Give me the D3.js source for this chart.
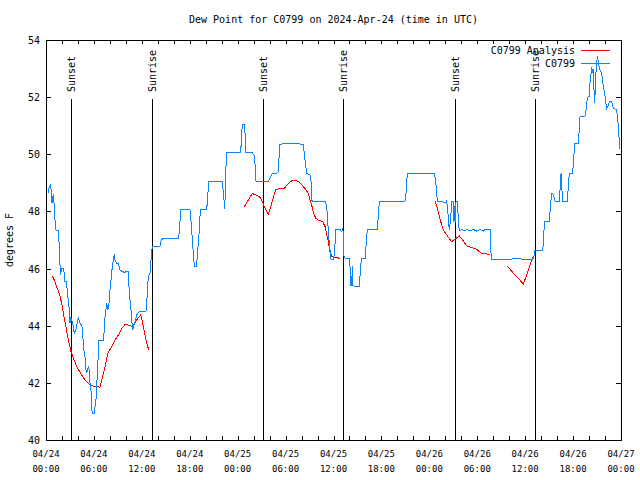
<!DOCTYPE html>
<html>
<head>
<meta charset="utf-8">
<script src="https://cdn.jsdelivr.net/npm/d3@7"></script>
<style>
  html, body { margin: 0; padding: 0; background: #fff; }
  svg { display: block; }
  text { font-family: "DejaVu Sans Mono", "Liberation Mono", monospace; fill: #000; }
</style>
</head>
<body>
<svg id="chart" width="640" height="480"></svg>
<script>
// ---------------- data ----------------
const chartTitle = "Dew Point for C0799 on 2024-Apr-24 (time in UTC)";
const yAxisLabel = "degrees F";
const seriesNames = ["C0799 Analysis", "C0799"];
const startTime = "2024-04-24T00:00:00Z";
const endTime = "2024-04-27T00:00:00Z";
const yTicks = [40, 42, 44, 46, 48, 50, 52, 54];

// observations: hours after 04/24 00:00 UTC
const obsHours = [0.25,0.34,0.44,0.59,0.66,0.75,0.91,1.00,1.13,1.25,1.50,1.63,1.75,1.84,1.92,2.17,2.25,2.38,2.59,2.67,2.79,2.92,3.01,3.09,3.22,3.34,3.54,3.72,3.92,4.04,4.26,4.47,4.60,4.67,4.88,5.01,5.13,5.30,5.42,5.51,5.63,5.72,5.85,6.05,6.14,6.26,6.35,6.42,6.55,6.64,7.18,7.30,7.39,7.60,7.73,7.89,8.01,8.10,8.26,8.43,8.55,8.64,8.77,8.85,9.05,9.27,9.60,9.89,10.11,10.31,10.43,10.61,10.77,10.86,11.02,11.27,11.43,11.61,11.77,12.52,12.61,12.73,12.81,13.02,13.15,13.24,13.31,14.28,14.36,14.61,16.57,16.69,16.82,16.87,18.03,18.12,18.24,18.37,18.45,18.57,18.87,18.95,19.07,19.20,19.28,19.37,20.12,20.20,20.32,20.41,22.08,22.20,22.29,22.33,22.45,22.54,22.63,24.38,24.51,24.58,24.83,24.92,25.01,25.76,26.05,26.17,26.30,26.80,27.21,27.84,28.14,28.26,28.89,29.09,29.21,29.30,29.93,30.97,32.22,32.43,32.65,33.06,33.18,33.27,33.47,34.94,35.15,35.27,35.44,35.56,35.69,35.98,36.06,36.19,36.28,36.81,37.03,37.15,37.23,37.32,37.44,37.98,38.07,38.15,38.28,38.36,38.44,38.69,39.23,39.32,39.41,39.53,39.95,40.07,40.16,40.23,41.49,41.61,41.74,44.95,45.08,45.17,45.24,48.59,48.71,48.84,48.92,49.00,49.55,50.09,50.17,50.30,50.38,50.50,50.68,50.80,51.00,51.09,51.18,51.25,51.34,51.50,51.63,51.72,51.84,52.05,52.47,52.68,53.09,53.51,53.93,54.35,54.76,54.97,55.60,55.69,55.76,57.69,58.10,58.48,59.77,60.95,61.11,61.23,62.20,62.27,62.36,62.48,63.02,63.20,63.32,63.52,63.74,64.28,64.36,64.49,64.58,64.70,65.28,65.40,65.53,65.95,66.03,66.12,66.24,66.66,66.74,66.87,67.49,67.62,67.71,67.91,68.03,68.12,68.25,68.33,68.46,68.53,68.62,68.71,68.78,68.87,68.96,69.03,69.12,69.21,69.37,69.58,69.71,69.87,70.00,70.12,70.21,70.41,70.54,70.84,71.05,71.46,71.59,71.72,71.80,71.88];
const obsDewpoint = [48.66,48.8,48.85,48.96,48.66,48.3,48.6,48.3,47.7,47.35,47.35,46.94,46.13,45.77,46.0,46.0,45.9,45.54,45.54,45.13,44.9,44.55,44.09,44.3,44.2,44.09,43.74,43.85,44.09,44.3,44.09,44.02,43.8,43.27,42.91,42.45,42.36,42.57,42.45,41.98,41.75,41.05,40.93,40.93,41.17,41.4,41.98,42.2,43.03,43.5,43.5,43.85,44.31,44.78,44.55,44.78,45.25,45.48,45.95,46.3,46.51,46.3,46.24,46.18,46.18,45.95,45.89,45.86,45.91,45.91,45.13,44.67,44.08,43.87,44.02,44.26,44.43,44.47,44.49,44.49,44.78,45.36,45.72,45.83,46.3,46.59,46.77,46.79,46.94,47.06,47.06,47.29,47.82,48.07,48.07,47.82,47.35,46.83,46.53,46.09,46.09,46.53,46.83,47.35,47.82,48.07,48.07,48.34,48.8,49.06,49.06,48.69,48.4,48.07,48.52,49.57,50.07,50.07,50.73,51.05,51.05,50.73,50.07,50.07,49.97,49.68,49.06,49.04,49.06,49.04,49.22,49.31,49.34,49.4,50.03,50.35,50.38,50.38,50.35,49.8,49.34,49.27,49.1,48.4,48.34,48.36,48.17,47.64,47.0,46.65,46.32,46.32,46.42,46.88,47.37,47.37,47.29,47.41,47.23,46.42,46.36,46.36,46.06,45.4,45.4,46.1,45.4,45.37,45.37,45.72,46.13,46.36,46.36,46.77,47.12,47.37,47.37,47.82,48.36,48.36,48.63,48.98,49.33,49.33,49.22,48.93,48.63,48.36,48.34,48.31,48.36,48.11,47.7,47.35,47.76,48.34,48.34,47.64,48.2,47.64,48.34,48.34,47.76,47.41,47.31,47.37,47.31,47.37,47.31,47.37,47.31,47.37,47.31,47.37,47.37,46.77,46.33,46.33,46.3,46.35,46.33,46.33,46.44,46.63,46.65,46.88,47.35,47.64,47.64,48.28,48.63,48.6,48.36,48.36,48.75,49.33,48.87,48.36,48.36,48.87,49.33,49.33,49.68,50.03,50.38,50.38,50.73,51.32,51.34,51.55,51.84,52.04,52.04,52.48,52.83,53.07,52.83,53.0,52.25,51.78,52.37,52.89,53.18,53.42,53.3,53.12,52.95,52.83,52.54,52.25,52.02,51.78,51.61,51.72,51.84,51.84,51.61,51.55,51.2,50.85,50.27,50.2];

// analysis: null marks a gap
const analysisHours = [0.79,1.13,1.41,1.67,1.97,2.25,2.50,2.79,3.13,3.42,3.76,4.09,4.47,4.88,5.30,5.72,6.05,6.76,6.97,7.39,7.73,8.23,8.64,9.05,9.48,9.89,10.43,10.86,11.36,11.86,12.02,12.27,12.52,12.86,
  null,
  24.83,25.33,25.83,26.30,26.71,27.01,27.33,27.84,28.26,28.76,29.30,29.80,30.34,30.89,31.39,31.89,32.43,32.85,33.06,33.27,33.47,33.77,34.10,34.65,34.94,35.15,35.35,35.56,35.78,36.06,36.81,
  null,
  48.75,49.00,49.25,49.55,49.75,50.17,50.80,51.34,51.75,52.18,52.68,53.31,53.93,54.56,55.18,55.60,
  null,
  57.77,58.19,58.73,59.27,59.77,60.11,60.39,60.69,60.95];
const analysisDewpoint = [45.74,45.54,45.3,45.13,44.78,44.3,43.97,43.5,43.1,42.86,42.63,42.45,42.27,42.1,41.98,41.91,41.87,41.85,42.1,42.57,43.03,43.27,43.5,43.67,43.9,44.04,44.02,43.97,44.2,44.38,44.2,43.85,43.5,43.15,
  null,
  48.17,48.4,48.63,48.57,48.52,48.4,48.17,47.9,48.28,48.77,48.8,48.8,48.98,49.1,49.08,48.98,48.8,48.63,48.4,48.22,47.99,47.76,47.7,47.64,47.47,47.18,46.94,46.59,46.42,46.4,46.36,
  null,
  48.36,48.11,47.82,47.53,47.35,47.18,46.94,47.06,47.14,47.0,46.79,46.74,46.67,46.53,46.51,46.51,
  null,
  46.09,45.95,45.77,45.62,45.46,45.72,45.95,46.18,46.4];

const sunsetHours = [3.13, 27.15, 51.18];
const sunriseHours = [13.27, 37.2, 61.23];
const sunMarkerTop = 51.95;

// ---------------- drawing ----------------
const svg = d3.select("#chart");
const plot = { left: 46, right: 621, top: 40, bottom: 440 };
const t0 = new Date(startTime);
const toDate = h => new Date(t0.getTime() + h * 3600e3);

const x = d3.scaleUtc().domain([t0, new Date(endTime)]).range([plot.left, plot.right]);
const y = d3.scaleLinear().domain([40, 54]).range([plot.bottom, plot.top]);

const obs = obsHours.map((h, i) => ({ t: toDate(h), v: obsDewpoint[i] }));
const ana = analysisHours.map((h, i) => ({ t: h == null ? null : toDate(h), v: analysisDewpoint[i] }));

// title
svg.append("text").attr("x", (plot.left + plot.right) / 2).attr("y", 23)
  .attr("text-anchor", "middle").style("font-size", "10px").text(chartTitle);

// y axis label
svg.append("text").attr("transform", `translate(13,${(plot.top + plot.bottom) / 2}) rotate(-90)`)
  .attr("text-anchor", "middle").style("font-size", "10px").text(yAxisLabel);

// x ticks
const minorTicks = x.ticks(d3.utcHour.every(2));
const majorTicks = x.ticks(d3.utcHour.every(6));
const tickG = svg.append("g").attr("stroke", "#000").attr("shape-rendering", "crispEdges");
minorTicks.forEach(d => {
  const px = Math.round(x(d)) + 0.5;
  tickG.append("line").attr("x1", px).attr("x2", px).attr("y1", plot.bottom).attr("y2", plot.bottom - 4);
  tickG.append("line").attr("x1", px).attr("x2", px).attr("y1", plot.top).attr("y2", plot.top + 4);
});
yTicks.forEach(v => {
  const py = Math.round(y(v)) + 0.5;
  tickG.append("line").attr("x1", plot.left).attr("x2", plot.left + 5).attr("y1", py).attr("y2", py);
  tickG.append("line").attr("x1", plot.right).attr("x2", plot.right - 5).attr("y1", py).attr("y2", py);
});
const fmtDate = d3.utcFormat("%m/%d"), fmtTime = d3.utcFormat("%H:%M");
majorTicks.forEach(d => {
  const t = svg.append("text").attr("x", x(d)).attr("y", 457)
    .attr("text-anchor", "middle").style("font-size", "9px");
  t.append("tspan").attr("x", x(d)).attr("dy", 0).text(fmtDate(d));
  t.append("tspan").attr("x", x(d)).attr("dy", 15).text(fmtTime(d));
});
yTicks.forEach(v => {
  svg.append("text").attr("x", 40).attr("y", y(v) + 4)
    .attr("text-anchor", "end").style("font-size", "10px").text(v);
});

// sunrise / sunset markers
const markers = sunsetHours.map(h => ({ h, label: "Sunset" }))
  .concat(sunriseHours.map(h => ({ h, label: "Sunrise" })));
markers.forEach(m => {
  const px = Math.round(x(toDate(m.h))) + 0.5;
  svg.append("line").attr("x1", px).attr("x2", px)
    .attr("y1", y(sunMarkerTop)).attr("y2", plot.bottom)
    .attr("stroke", "#000").attr("shape-rendering", "crispEdges");
  svg.append("text").attr("transform", `translate(${px + 3.5},92) rotate(-90)`)
    .attr("text-anchor", "start").style("font-size", "10px").text(m.label);
});

// series
const line = d3.line().defined(d => d.t != null && d.v != null)
  .x(d => x(d.t)).y(d => y(d.v));
svg.append("path").datum(ana).attr("d", line).attr("fill", "none")
  .attr("stroke", "#ff0000").attr("stroke-width", 1).attr("shape-rendering", "crispEdges");
svg.append("path").datum(obs).attr("d", line).attr("fill", "none")
  .attr("stroke", "#0a84ff").attr("stroke-width", 1).attr("shape-rendering", "crispEdges");

// legend
const legend = [{ name: seriesNames[0], color: "#ff0000" }, { name: seriesNames[1], color: "#0a84ff" }];
legend.forEach((l, i) => {
  const ly = 50 + i * 13;
  svg.append("text").attr("x", 575).attr("y", ly + 4).attr("text-anchor", "end")
    .style("font-size", "10px").text(l.name);
  svg.append("line").attr("x1", 581).attr("x2", 610).attr("y1", ly + 0.5).attr("y2", ly + 0.5)
    .attr("stroke", l.color).attr("shape-rendering", "crispEdges");
});

// frame
svg.append("rect").attr("x", plot.left + 0.5).attr("y", plot.top + 0.5)
  .attr("width", plot.right - plot.left).attr("height", plot.bottom - plot.top)
  .attr("fill", "none").attr("stroke", "#000").attr("shape-rendering", "crispEdges");
</script>
</body>
</html>
